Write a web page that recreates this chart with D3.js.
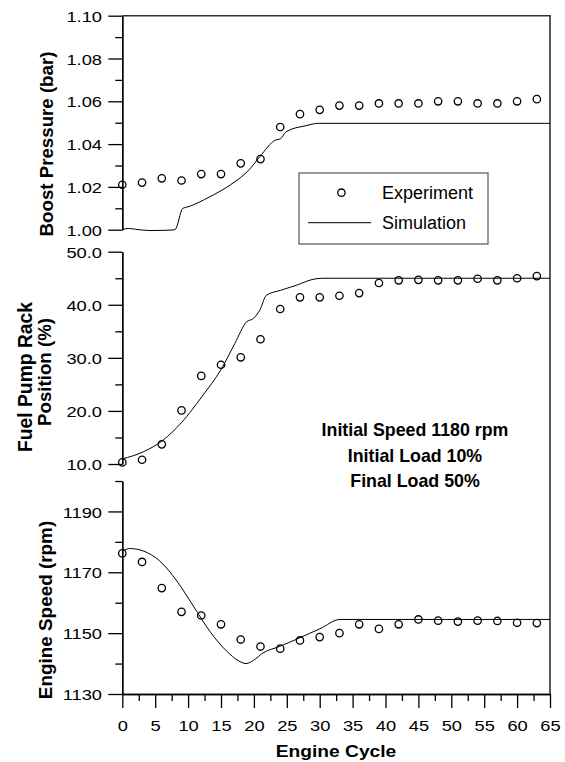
<!DOCTYPE html>
<html>
<head>
<meta charset="utf-8">
<script src="https://cdn.jsdelivr.net/npm/d3@7"></script>
<style>
    body { margin: 0; background: #fff; }
    svg { display: block; }
    text { font-family: "Liberation Sans", Arial, sans-serif; fill: #000; }
</style>
</head>
<body>
<svg id="chart" width="565" height="762"></svg>
<script>
// experiment: one reading every 3 engine cycles
const cycles = [0, 3, 6, 9, 12, 15, 18, 21, 24, 27, 30, 33, 36, 39, 42, 45, 48, 51, 54, 57, 60, 63];
const expBoost = [1.021, 1.022, 1.024, 1.023, 1.026, 1.026, 1.031, 1.033, 1.048, 1.054, 1.056,
                  1.058, 1.058, 1.059, 1.059, 1.059, 1.060, 1.060, 1.059, 1.059, 1.060, 1.061];
const expRack = [10.3, 10.8, 13.7, 20.1, 26.6, 28.7, 30.1, 33.5, 39.2, 41.4, 41.4,
                 41.7, 42.2, 44.1, 44.6, 44.7, 44.6, 44.6, 44.9, 44.6, 45.0, 45.4];
const expSpeed = [1176.2, 1173.4, 1164.8, 1157.0, 1155.8, 1152.9, 1147.9, 1145.6, 1144.9, 1147.6, 1148.7,
                  1150.0, 1152.9, 1151.4, 1152.9, 1154.5, 1154.1, 1153.8, 1154.1, 1154.0, 1153.4, 1153.3];

// simulation curves [cycle, value]
const simBoost = [[0, 1.000], [0.9, 1.0006], [2, 1.0002], [4.2, 0.9996], [6.5, 0.9997], [8.0, 1.000],
                  [9.2, 1.0100], [10.0, 1.0107], [13.3, 1.0154], [16.4, 1.0209], [19.4, 1.0284],
                  [20.9, 1.0341], [23.3, 1.0419], [24.0, 1.0424], [24.9, 1.0458], [27.9, 1.0486],
                  [29.8, 1.0497], [65, 1.0497]];
const simRack = [[0, 10.96], [3.2, 12.3], [6.1, 14.4], [9.0, 17.8], [12.1, 22.7], [15.1, 28.0],
                 [17.1, 32.7], [18.9, 36.8], [19.9, 37.4], [20.9, 39.0], [21.9, 41.8], [24.0, 42.7],
                 [26.5, 43.7], [29.0, 44.8], [30.5, 45.0], [65, 45.0]];
const simSpeed = [[0, 1177.0], [1.2, 1177.8], [3.2, 1177.0], [5.7, 1173.7], [8.3, 1167.1], [10.8, 1158.9],
                  [13.3, 1150.6], [15.9, 1144.0], [17.6, 1141.0], [18.8, 1140.0], [19.9, 1141.0],
                  [21.4, 1143.5], [24.0, 1145.7], [27.0, 1148.5], [30.0, 1151.4], [33.1, 1154.5], [65, 1154.5]];

// ticks
const cycleTicks = [0, 5, 10, 15, 20, 25, 30, 35, 40, 45, 50, 55, 60, 65];
const cycleMinor = [2.5, 7.5, 12.5, 17.5, 22.5, 27.5, 32.5, 37.5, 42.5, 47.5, 52.5, 57.5, 62.5];
const boostTicks = [1.00, 1.02, 1.04, 1.06, 1.08, 1.10];
const boostMinor = [1.01, 1.03, 1.05, 1.07, 1.09];
const rackTicks = [10, 20, 30, 40, 50];
const rackMinor = [15, 25, 35, 45];
const speedTicks = [1130, 1150, 1170, 1190];
const speedMinor = [1140, 1160, 1180, 1200];

const legendLabels = ["Experiment", "Simulation"];
const noteLines = ["Initial Speed 1180 rpm", "Initial Load 10%", "Final Load 50%"];

const svg = d3.select("#chart");

const x = d3.scaleLinear().domain([0, 65]).range([122.3, 550]);

const panels = [
    { domain: [1.00, 1.10], range: [229.7, 15.7], major: boostTicks, minor: boostMinor,
      fmt: d3.format(".2f"), exp: expBoost, sim: simBoost },
    { domain: [10, 50], range: [464, 251.7], major: rackTicks, minor: rackMinor,
      fmt: d3.format(".1f"), exp: expRack, sim: simRack },
    { domain: [1130, 1200], range: [694, 481], major: speedTicks, minor: speedMinor,
      fmt: d3.format("d"), exp: expSpeed, sim: simSpeed }
];

// widen axis numbers a little, the original font runs wide
function stretch(sel, k) {
    sel.each(function () {
        const w = this.getComputedTextLength();
        d3.select(this).attr("textLength", w * k).attr("lengthAdjust", "spacingAndGlyphs");
    });
}

function styleAxis(g) {
    g.attr("font-family", null).attr("font-size", null);
    g.selectAll("path, line").attr("stroke", "#000").attr("stroke-width", 1.3);
    g.selectAll("text").style("font-size", "15.5px");
}

// frame: top and right edges
svg.append("path")
    .attr("d", `M${x(0)},${panels[0].range[1]}H${x(65)}V${panels[2].range[0]}`)
    .attr("fill", "none")
    .attr("stroke", "#333")
    .attr("stroke-width", 1.6);

panels.forEach(p => {
    const y = d3.scaleLinear().domain(p.domain).range(p.range);

    svg.append("g")
        .attr("transform", `translate(${x(0)},0)`)
        .call(d3.axisLeft(y).tickValues(p.minor).tickSize(7).tickSizeOuter(0).tickFormat(""))
        .call(styleAxis);

    const ax = svg.append("g")
        .attr("transform", `translate(${x(0)},0)`)
        .call(d3.axisLeft(y).tickValues(p.major).tickSize(14).tickSizeOuter(0)
            .tickPadding(6.3).tickFormat(p.fmt))
        .call(styleAxis);
    ax.selectAll("text").attr("dy", "0.36em").call(stretch, 1.18);

    const line = d3.line()
        .x(d => x(d[0]))
        .y(d => y(d[1]))
        .curve(d3.curveMonotoneX);

    svg.append("path")
        .datum(p.sim)
        .attr("d", line)
        .attr("fill", "none")
        .attr("stroke", "#000")
        .attr("stroke-width", 1);

    svg.append("g")
        .selectAll("circle")
        .data(p.exp)
        .join("circle")
        .attr("cx", (d, i) => x(cycles[i]))
        .attr("cy", d => y(d))
        .attr("r", 3.7)
        .attr("fill", "none")
        .attr("stroke", "#000")
        .attr("stroke-width", 1.3);
});

// x axis under the bottom panel
const yBottom = panels[2].range[0];
svg.append("g")
    .attr("transform", `translate(0,${yBottom})`)
    .call(d3.axisBottom(x).tickValues(cycleMinor).tickSize(7).tickSizeOuter(0).tickFormat(""))
    .call(styleAxis);
const xa = svg.append("g")
    .attr("transform", `translate(0,${yBottom})`)
    .call(d3.axisBottom(x).tickValues(cycleTicks).tickSize(14).tickSizeOuter(0).tickPadding(12))
    .call(styleAxis);
xa.selectAll("text").call(stretch, 1.18);

// axis titles
svg.append("text")
    .attr("x", 336).attr("y", 757)
    .attr("text-anchor", "middle")
    .style("font-size", "16px").style("font-weight", "bold")
    .text("Engine Cycle")
    .call(stretch, 1.2);

svg.append("text")
    .attr("transform", "translate(53,144) rotate(-90)")
    .attr("text-anchor", "middle")
    .style("font-size", "18.7px").style("font-weight", "bold")
    .text("Boost Pressure (bar)");

svg.append("text")
    .attr("transform", "translate(31.5,377) rotate(-90)")
    .attr("text-anchor", "middle")
    .style("font-size", "19.3px").style("font-weight", "bold")
    .text("Fuel Pump Rack");
svg.append("text")
    .attr("transform", "translate(51,372) rotate(-90)")
    .attr("text-anchor", "middle")
    .style("font-size", "18.7px").style("font-weight", "bold")
    .text("Position (%)");

svg.append("text")
    .attr("transform", "translate(52,610) rotate(-90)")
    .attr("text-anchor", "middle")
    .style("font-size", "18.9px").style("font-weight", "bold")
    .text("Engine Speed (rpm)");

// legend
const lg = svg.append("g");
lg.append("rect")
    .attr("x", 299).attr("y", 173).attr("width", 189).attr("height", 71)
    .attr("fill", "#fff").attr("stroke", "#555").attr("stroke-width", 1.2);
lg.append("circle")
    .attr("cx", 341.4).attr("cy", 192.7).attr("r", 3.7)
    .attr("fill", "none").attr("stroke", "#000").attr("stroke-width", 1.3);
lg.append("line")
    .attr("x1", 308).attr("x2", 371).attr("y1", 222.7).attr("y2", 222.7)
    .attr("stroke", "#000").attr("stroke-width", 1);
lg.selectAll("text.lab")
    .data(legendLabels)
    .join("text")
    .attr("class", "lab")
    .attr("x", 382)
    .attr("y", (d, i) => 199 + i * 30)
    .style("font-size", "18px")
    .text(d => d);

// run conditions note
svg.selectAll("text.note")
    .data(noteLines)
    .join("text")
    .attr("class", "note")
    .attr("x", 415)
    .attr("y", (d, i) => 436 + i * 25.5)
    .attr("text-anchor", "middle")
    .style("font-size", "17.8px").style("font-weight", "bold")
    .text(d => d);
</script>
</body>
</html>
